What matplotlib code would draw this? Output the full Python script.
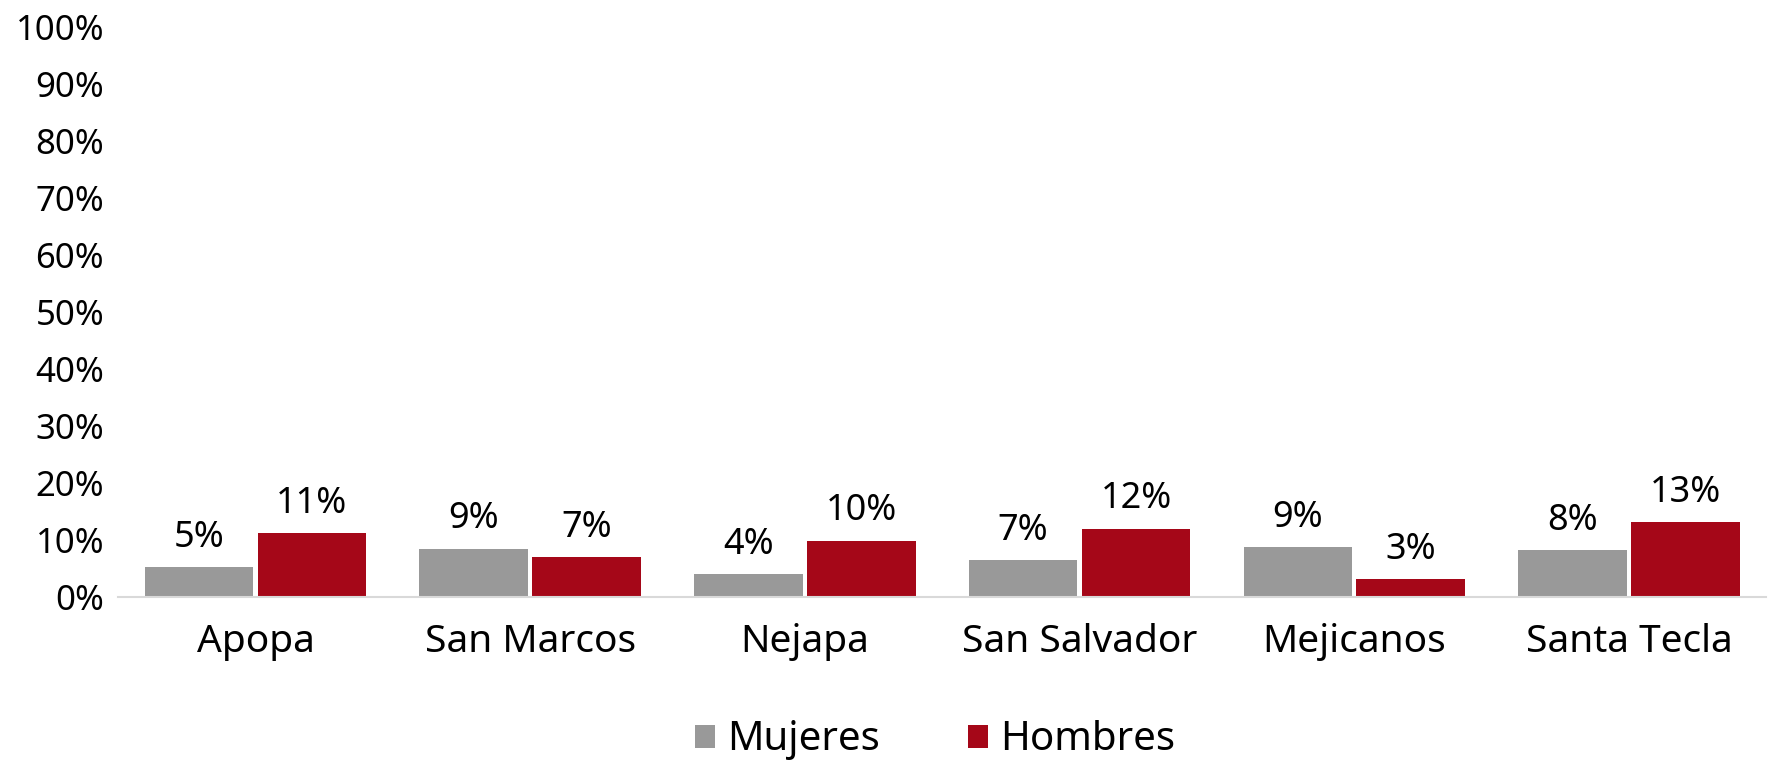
import matplotlib
matplotlib.use("Agg")
import matplotlib.pyplot as plt
import numpy as np
from matplotlib.ticker import FuncFormatter

categories = ["Apopa", "San Marcos", "Nejapa", "San Salvador", "Mejicanos", "Santa Tecla"]
mujeres = [5.2, 8.5, 4.1, 6.5, 8.8, 8.2]
hombres = [11.2, 7.0, 9.9, 12.0, 3.1, 13.1]
mujeres_labels = ["5%", "9%", "4%", "7%", "9%", "8%"]
hombres_labels = ["11%", "7%", "10%", "12%", "3%", "13%"]
series_names = ["Mujeres", "Hombres"]
yticks = list(range(0, 101, 10))

plt.rcParams['font.family'] = ['Noto Sans', 'DejaVu Sans']

fig = plt.figure(figsize=(17.76, 7.61), dpi=100)
ax = fig.add_axes([0.0665, 0.2155, 0.928, 0.749])

x = np.arange(len(categories))
w = 0.395
gap = 0.008
c1 = "#999999"
c2 = "#a50718"
b1 = ax.bar(x - w/2 - gap, mujeres, w, color=c1, label=series_names[0])
b2 = ax.bar(x + w/2 + gap, hombres, w, color=c2, label=series_names[1])

for bars, labs in ((b1, mujeres_labels), (b2, hombres_labels)):
    for r, t in zip(bars, labs):
        ax.annotate(t, (r.get_x() + r.get_width()/2, r.get_height()),
                    xytext=(0, 8), textcoords="offset points",
                    ha="center", va="bottom", fontsize=26, color="#000000")

ax.set_ylim(0, 100)
ax.set_xlim(-0.5, len(categories) - 0.5)
ax.set_yticks(yticks)
ax.yaxis.set_major_formatter(FuncFormatter(lambda v, p: f"{int(v)}%"))
ax.set_xticks(x)
ax.set_xticklabels(categories)
ax.tick_params(axis='y', length=0, labelsize=25, pad=10)
ax.tick_params(axis='x', length=0, labelsize=28, pad=19)
for s in ["top", "right", "left"]:
    ax.spines[s].set_visible(False)
ax.spines["bottom"].set_color("#d9d9d9")
ax.spines["bottom"].set_linewidth(1.5)

fig.legend(handles=[b1, b2], labels=series_names, loc="center",
           bbox_to_anchor=(0.5265, 0.027), ncol=2, frameon=False,
           fontsize=29, handlelength=0.5, handleheight=0.5,
           handletextpad=0.3, columnspacing=2.2)

fig.savefig("out.png", dpi=100)
